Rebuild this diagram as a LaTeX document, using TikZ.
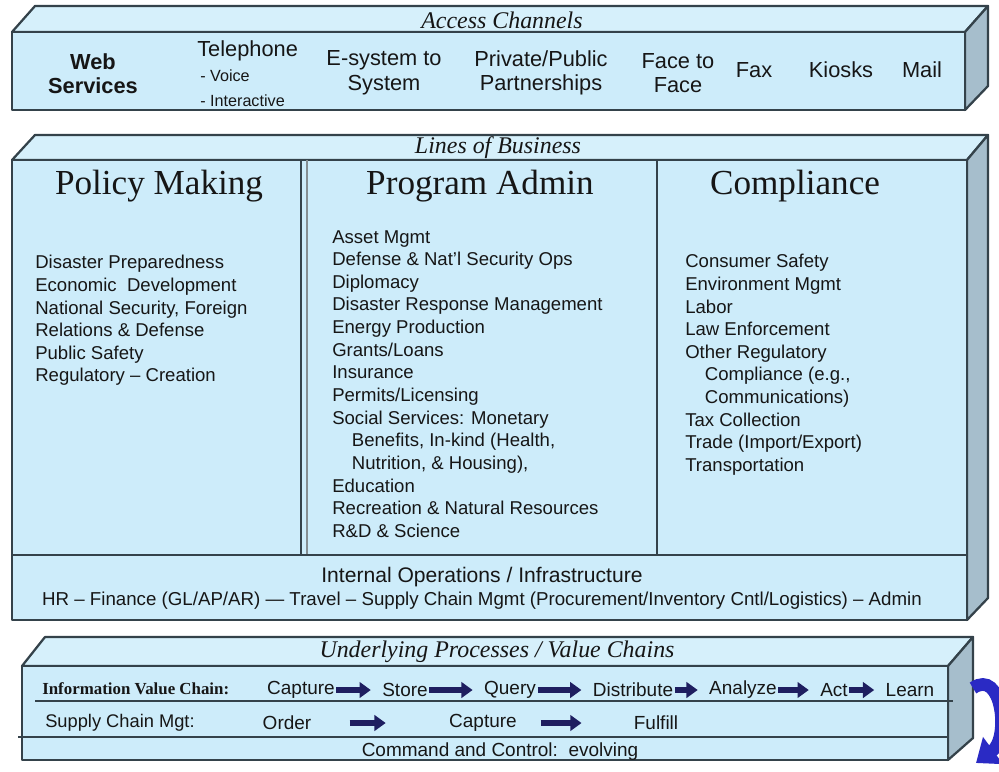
\documentclass[tikz,border=0pt]{standalone}
\usepackage{fontspec}
\setmainfont{Liberation Serif}
\setsansfont{Liberation Sans}
\usetikzlibrary{arrows.meta}
\definecolor{facefront}{RGB}{205,236,250}
\definecolor{facetop}{RGB}{214,240,251}
\definecolor{faceside}{RGB}{166,190,204}
\definecolor{edgegray}{RGB}{52,66,74}
\definecolor{flownavy}{RGB}{30,30,96}
\definecolor{loopblue}{RGB}{42,42,196}
\definecolor{inktext}{RGB}{22,22,22}
\begin{document}
\begin{tikzpicture}[x=0.025cm,y=-0.025cm,
  every node/.style={text=inktext,inner sep=0pt},
  frontface/.style={fill=facefront,draw=edgegray,line width=1.6pt,line join=round},
  topface/.style={fill=facetop,draw=edgegray,line width=1.6pt,line join=round},
  sideface/.style={fill=faceside,draw=edgegray,line width=1.6pt,line join=round},
  boxtitle/.style={font=\fontsize{17}{20}\selectfont\itshape},
  channel/.style={font=\fontsize{15.5}{17.5}\selectfont\sffamily,align=center},
  subchannel/.style={font=\fontsize{11.5}{14}\selectfont\sffamily,anchor=west},
  lobhead/.style={font=\fontsize{25}{30}\selectfont},
  loblist/.style={font=\fontsize{13.2}{16.1}\selectfont\sffamily,align=left,anchor=north west},
  chainitem/.style={font=\fontsize{13.5}{16}\selectfont\sffamily,inner sep=1pt},
  flowarrow/.style={-{Triangle[length=8pt,width=11pt]},line width=3.8pt,flownavy,shorten >=7pt},
  divider/.style={draw=edgegray,line width=1.4pt},
  cyclearrow/.style={-{Triangle[length=15pt,width=23pt]},line width=9pt,loopblue}]
  \useasboundingbox (0,0) rectangle (999,771);
  \fill[white] (0,0) rectangle (999,771);
  % access channels box
  \draw[topface] (12,32) -- (35,6) -- (988,6) -- (965,32) -- cycle;
  \draw[sideface] (965,32) -- (988,6) -- (988,86) -- (965,110) -- cycle;
  \draw[frontface] (12,32) rectangle (965,110);
  \node[boxtitle] (accesstitle) at (502,20) {Access Channels};
  \node[channel,font=\fontsize{15.5}{17}\selectfont\sffamily\bfseries] (web) at (93,74) {Web\\Services};
  \node[channel,anchor=west] (tel) at (197,51) {Telephone};
  \node[subchannel] (telvoice) at (200,76) {- Voice};
  \node[subchannel] (telinter) at (200,101) {- Interactive};
  \node[channel] (esystem) at (384,73) {E-system to\\System};
  \node[channel] (partner) at (541,73) {Private/Public\\Partnerships};
  \node[channel] (face) at (678,73) {Face to\\Face};
  \node[channel] (fax) at (754,70) {Fax};
  \node[channel] (kiosk) at (841,70) {Kiosks};
  \node[channel] (mail) at (922,70) {Mail};
  % lines of business box
  \draw[topface] (12,160) -- (35,135) -- (988,135) -- (967,160) -- cycle;
  \draw[sideface] (967,160) -- (988,135) -- (988,598) -- (967,620) -- cycle;
  \draw[frontface] (12,160) rectangle (967,620);
  \draw[divider] (301,160) -- (301,555);
  \draw[draw=edgegray!60,line width=0.8pt] (307,160) -- (307,555);
  \draw[divider] (657,160) -- (657,555);
  \draw[divider] (12,555) -- (967,555);
  \node[boxtitle] (lobtitle) at (498,148) {Lines of Business};
  \node[lobhead] (policy) at (159,186) {Policy Making};
  \node[lobhead] (program) at (480,186) {Program Admin};
  \node[lobhead] (compliance) at (795,186) {Compliance};
  \node[loblist] (policylist) at (35,255) {Disaster Preparedness\\Economic\ \ Development\\National Security, Foreign\\Relations \& Defense\\Public Safety\\Regulatory – Creation};
  \node[loblist] (programlist) at (332,230) {Asset Mgmt\\Defense \& Nat'l Security Ops\\Diplomacy\\Disaster Response Management\\Energy Production\\Grants/Loans\\Insurance\\Permits/Licensing\\Social Services: Monetary\\\hspace*{14pt}Benefits, In-kind (Health,\\\hspace*{14pt}Nutrition, \& Housing),\\Education\\Recreation \& Natural Resources\\R\&D \& Science};
  \node[loblist] (compliancelist) at (685,254) {Consumer Safety\\Environment Mgmt\\Labor\\Law Enforcement\\Other Regulatory\\\hspace*{14pt}Compliance (e.g.,\\\hspace*{14pt}Communications)\\Tax Collection\\Trade (Import/Export)\\Transportation};
  \node[font=\fontsize{15}{18}\selectfont\sffamily] (internalops) at (482,577) {Internal Operations / Infrastructure};
  \node[font=\fontsize{13.3}{16}\selectfont\sffamily] (backoffice) at (482,601) {HR – Finance (GL/AP/AR) — Travel – Supply Chain Mgmt (Procurement/Inventory Cntl/Logistics) – Admin};
  % underlying processes box
  \draw[topface] (22,666) -- (45,637) -- (973,637) -- (948,666) -- cycle;
  \draw[sideface] (948,666) -- (973,637) -- (973,738) -- (948,760) -- cycle;
  \draw[frontface] (22,666) rectangle (948,760);
  \draw[edgegray,line width=1.1pt] (35,701) -- (953,701);
  \draw[edgegray,line width=1.3pt] (18,737) -- (948,737);
  \node[boxtitle] (processtitle) at (497,652) {Underlying Processes / Value Chains};
  \node[font=\fontsize{12}{14}\selectfont\bfseries,anchor=west] (infochain) at (42,689) {Information Value Chain:};
  \node[chainitem] (capture) at (301,690) {Capture};
  \node[chainitem] (store) at (405,690) {Store};
  \node[chainitem] (query) at (510,690) {\raisebox{-5pt}{Query}};
  \node[chainitem] (distribute) at (633,690) {Distribute};
  \node[chainitem] (analyze) at (743,690) {Analyze};
  \node[chainitem] (act) at (834,690) {Act};
  \node[chainitem] (learn) at (910,690) {Learn};
  \draw[flowarrow] (capture) -- (store);
  \draw[flowarrow] (store) -- (query);
  \draw[flowarrow] (query) -- (distribute);
  \draw[flowarrow] (distribute) -- (analyze);
  \draw[flowarrow] (analyze) -- (act);
  \draw[flowarrow] (act) -- (learn);
  \node[font=\fontsize{13}{16}\selectfont\sffamily,anchor=west] (supplychain) at (45,723) {Supply Chain Mgt:};
  \node[chainitem] (order) at (287,723) {Order};
  \node[chainitem] (capturetwo) at (483,723) {Capture};
  \node[chainitem] (fulfill) at (656,723) {Fulfill};
  \draw[flowarrow,shorten <=26pt,shorten >=44pt] (order) -- (capturetwo);
  \draw[flowarrow,shorten <=16pt,shorten >=36pt] (capturetwo) -- (fulfill);
  \node[font=\fontsize{13.5}{16}\selectfont\sffamily] (command) at (500,752) {Command and Control:\ \ evolving};
  % cycle arrow
  \coordinate (cyclestart) at (973,688);
  \coordinate (cycleend) at (976,763);
  \draw[cyclearrow] (cyclestart) .. controls (1002,668) and (1010,738) .. (cycleend);
\end{tikzpicture}
\end{document}
